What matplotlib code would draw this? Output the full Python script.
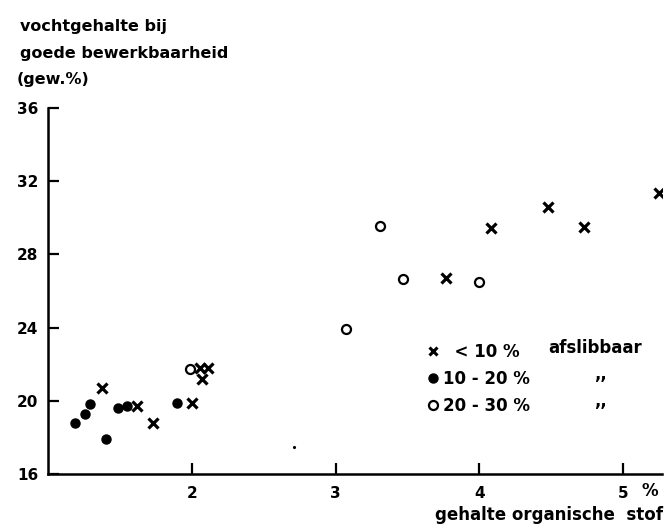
import matplotlib
matplotlib.use("Agg")
import matplotlib.pyplot as plt
from matplotlib.lines import Line2D

# gehalte organische stof (%) vs vochtgehalte (gew.%)
x_lt10 = [1.375, 1.62, 1.73, 2.0, 2.07, 2.06, 2.11, 3.77, 4.08, 4.48, 4.73, 5.25]
y_lt10 = [20.7, 19.7, 18.8, 19.9, 21.2, 21.8, 21.8, 26.7, 29.45, 30.6, 29.5, 31.35]

x_10_20 = [1.19, 1.26, 1.29, 1.40, 1.49, 1.55, 1.90]
y_10_20 = [18.8, 19.3, 19.8, 17.9, 19.6, 19.7, 19.9]

x_20_30 = [1.99, 3.07, 3.31, 3.47, 4.0]
y_20_30 = [21.75, 23.9, 29.55, 26.65, 26.5]

# speck in the scan
x_speck = [2.71]
y_speck = [17.5]

xticks = [2, 3, 4, 5]
yticks = [16, 20, 24, 28, 32, 36]

plt.rcParams['font.family'] = ['DejaVu Sans']
plt.rcParams['font.weight'] = 'bold'

fig = plt.figure(figsize=(6.66, 5.28), dpi=100)
ax = fig.add_axes([0.0721, 0.1023, 0.9219, 0.6932])

ax.plot(x_lt10, y_lt10, 'x', color='black', markersize=6.5, markeredgewidth=2.3, linestyle='none')
ax.plot(x_10_20, y_10_20, 'o', color='black', markersize=6.5, linestyle='none')
ax.plot(x_20_30, y_20_30, 'o', markerfacecolor='white', markeredgecolor='black',
        markersize=6.5, markeredgewidth=1.6, linestyle='none')
ax.plot(x_speck, y_speck, '.', color='black', markersize=2.5, linestyle='none')

ax.set_xlim(1, 5.27)
ax.set_ylim(16, 36)
ax.set_xticks(xticks)
ax.set_yticks(yticks)
ax.tick_params(direction='in', length=8, width=1.6, labelsize=11, pad=7, colors='black')
ax.tick_params(axis='x', pad=9)
for lab in ax.get_xticklabels() + ax.get_yticklabels():
    lab.set_fontweight('bold')

for s in ['top', 'right']:
    ax.spines[s].set_visible(False)
for s in ['left', 'bottom']:
    ax.spines[s].set_linewidth(1.8)

# legend
handles = [
    Line2D([], [], marker='x', color='black', linestyle='none', markersize=6, markeredgewidth=2.2),
    Line2D([], [], marker='o', color='black', linestyle='none', markersize=6.5),
    Line2D([], [], marker='o', markerfacecolor='white', markeredgecolor='black',
           linestyle='none', markersize=6.5, markeredgewidth=1.6),
]
labels = ['  < 10 %', '10 - 20 %', '20 - 30 %']
leg = ax.legend(handles, labels, loc='upper left', bbox_to_anchor=(0.595, 0.40),
                frameon=False, handlelength=0.6, handletextpad=0.3, labelspacing=0.55,
                prop={'size': 12, 'weight': 'bold'})
ax.text(0.815, 0.345, 'afslibbaar', transform=ax.transAxes, fontsize=12, fontweight='bold', va='center')
ax.text(0.89, 0.272, ',,', transform=ax.transAxes, fontsize=12, fontweight='bold', va='center')
ax.text(0.89, 0.199, ',,', transform=ax.transAxes, fontsize=12, fontweight='bold', va='center')

# axis titles
fig.text(0.03, 0.949, 'vochtgehalte bij', fontsize=11.5, fontweight='bold', va='center')
fig.text(0.03, 0.899, 'goede bewerkbaarheid', fontsize=11.5, fontweight='bold', va='center')
fig.text(0.025, 0.849, '(gew.%)', fontsize=11.5, fontweight='bold', va='center')
fig.text(0.975, 0.07, '%', fontsize=12, fontweight='bold', va='center', ha='center')
fig.text(0.995, 0.025, 'gehalte organische  stof', fontsize=12, fontweight='bold', va='center', ha='right')

fig.savefig('out.png', dpi=100, facecolor='white')
